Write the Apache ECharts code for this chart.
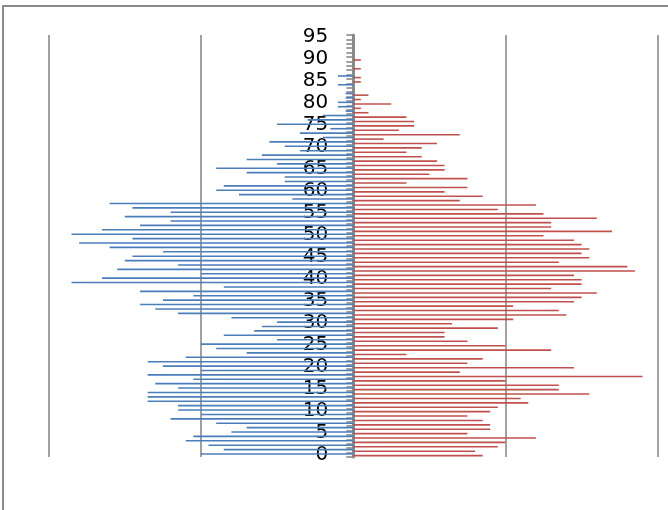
<!DOCTYPE html>
<html>
<head>
<meta charset="utf-8">
<script src="https://cdn.jsdelivr.net/npm/echarts@6/dist/echarts.min.js"></script>
<style>html,body{margin:0;padding:0;background:#fff}#c{width:668px;height:510px}</style>
</head>
<body>
<div id="c"></div>
<script>
// ages 0..95
const ages = Array.from({length: 96}, (_, i) => String(i));
// male counts (left, blue), index = age
const male = [20,17,19,22,21,16,14,18,24,20,
              23,23,27,27,27,23,26,21,27,20,
              25,27,22,14,18,20,10,17,13,12,
              10,16,23,26,28,25,21,28,17,37,
              33,20,31,23,30,29,25,32,36,29,
              37,33,28,24,30,24,29,32,8,15,
              18,17,9,9,14,18,10,14,12,7,
              9,11,4,7,3,10,6,4,1,2,
              2,1,1,0,2,0,2,0,0,0,
              0,0,0,0,0,0];
// female counts (right, red), index = age
const female = [17,16,19,20,24,15,18,18,17,15,
                18,19,23,22,31,27,27,20,38,14,
                29,15,17,7,26,20,15,12,12,19,
                13,21,28,27,21,29,30,32,26,30,
                30,29,37,36,27,31,30,31,30,29,
                25,34,26,26,32,25,19,24,14,17,
                12,15,7,15,10,12,12,11,9,7,
                9,11,4,14,6,8,8,7,2,1,
                5,1,2,0,0,1,1,0,1,0,
                1,0,0,0,0,0];

const chart = echarts.init(document.getElementById('c'), null, {renderer: 'canvas'});
chart.setOption({
  animation: false,
  graphic: [{
    type: 'rect', silent: true, z: -10,
    shape: {x: 3, y: 6, width: 720, height: 620},
    style: {fill: 'none', stroke: '#8a8a8a', lineWidth: 2}
  }],
  grid: {left: 48.7, right: 10.3, top: 35, bottom: 53, containLabel: false},
  xAxis: {
    type: 'value', min: -40, max: 40, interval: 20,
    axisLabel: {show: false}, axisLine: {show: false}, axisTick: {show: false},
    splitLine: {show: true, lineStyle: {color: '#8a8a8a', width: 1.6}}
  },
  yAxis: {
    type: 'category', data: ages, position: 'left', offset: -304.6,
    axisLine: {show: true, onZero: false, lineStyle: {color: '#8a8a8a', width: 3}},
    axisTick: {show: true, interval: 0, length: 7, lineStyle: {color: '#8a8a8a', width: 1.6}},
    axisLabel: {interval: 4, margin: 25, color: '#000', fontFamily: 'DejaVu Sans', fontSize: 20},
    splitLine: {show: false}
  },
  series: [
    {name: 'male', type: 'bar', data: male.map(v => -v), barWidth: 1.6, barGap: '0%',
     itemStyle: {color: '#4a7ebb'}, z: 3},
    {name: 'female', type: 'bar', data: female, barWidth: 1.6,
     itemStyle: {color: '#c0504d'}, z: 3}
  ]
});
</script>
</body>
</html>
